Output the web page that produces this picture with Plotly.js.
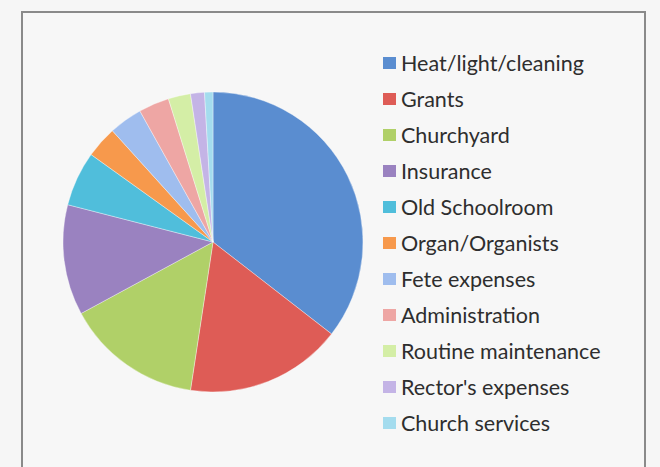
<!DOCTYPE html>
<html>
<head>
<meta charset="utf-8">
<script src="https://cdn.plot.ly/plotly-3.0.1.min.js"></script>
<style>
  html, body { margin: 0; padding: 0; background: #f6f6f6; }
  #chart { width: 660px; height: 467px; }
</style>
</head>
<body>
<div id="chart"></div>
<script>
const categories = [
  "Heat/light/cleaning", "Grants", "Churchyard", "Insurance", "Old Schoolroom",
  "Organ/Organists", "Fete expenses", "Administration", "Routine maintenance",
  "Rector's expenses", "Church services"
];
const shares = [35.5, 16.9, 14.7, 11.9, 5.9, 3.4, 3.6, 3.3, 2.4, 1.5, 0.9];
const sliceColors = [
  "#5a8dd0", "#de5c56", "#b0d068", "#9a82c0", "#50bedb", "#f7994c",
  "#9fbdee", "#eea6a4", "#d4eea6", "#c4b4e6", "#a4dcee"
];

const legendTop = 63;      // px centre of first legend entry
const legendStep = 36;     // px between entries
const W = 660, H = 467;

const shapes = [
  { type: "rect", xref: "paper", yref: "paper",
    x0: 22 / W, x1: 645 / W, y0: -0.05, y1: 1 - 12 / H,
    line: { color: "#8a8a8a", width: 2 }, fillcolor: "#f7f7f7", layer: "below" }
];
const annotations = [];
categories.forEach((c, i) => {
  const yc = legendTop + i * legendStep;
  shapes.push({ type: "rect", xref: "paper", yref: "paper",
    x0: 383 / W, x1: 396 / W, y0: 1 - (yc + 6) / H, y1: 1 - (yc - 6) / H,
    line: { width: 0 }, fillcolor: sliceColors[i] });
  annotations.push({ xref: "paper", yref: "paper", x: 399 / W, y: 1 - yc / H,
    xanchor: "left", yanchor: "middle", showarrow: false, text: c,
    font: { family: "Lato, 'Open Sans', sans-serif", size: 21.5, color: "#2e2e2e" } });
});

const cx = 213, cy = 242, r = 150;
const trace = {
  type: "pie",
  labels: categories,
  values: shares,
  sort: false,
  direction: "clockwise",
  rotation: 0,
  textinfo: "none",
  hoverinfo: "label+percent",
  showlegend: false,
  marker: { colors: sliceColors, line: { color: "rgba(255,255,255,0.6)", width: 0.6 } },
  domain: { x: [(cx - r) / W, (cx + r) / W], y: [1 - (cy + r) / H, 1 - (cy - r) / H] }
};

Plotly.newPlot("chart", [trace], {
  width: W, height: H,
  margin: { l: 0, r: 0, t: 0, b: 0 },
  paper_bgcolor: "#f6f6f6",
  plot_bgcolor: "#f6f6f6",
  showlegend: false,
  shapes: shapes,
  annotations: annotations
}, { displayModeBar: false, staticPlot: true });
</script>
</body>
</html>
